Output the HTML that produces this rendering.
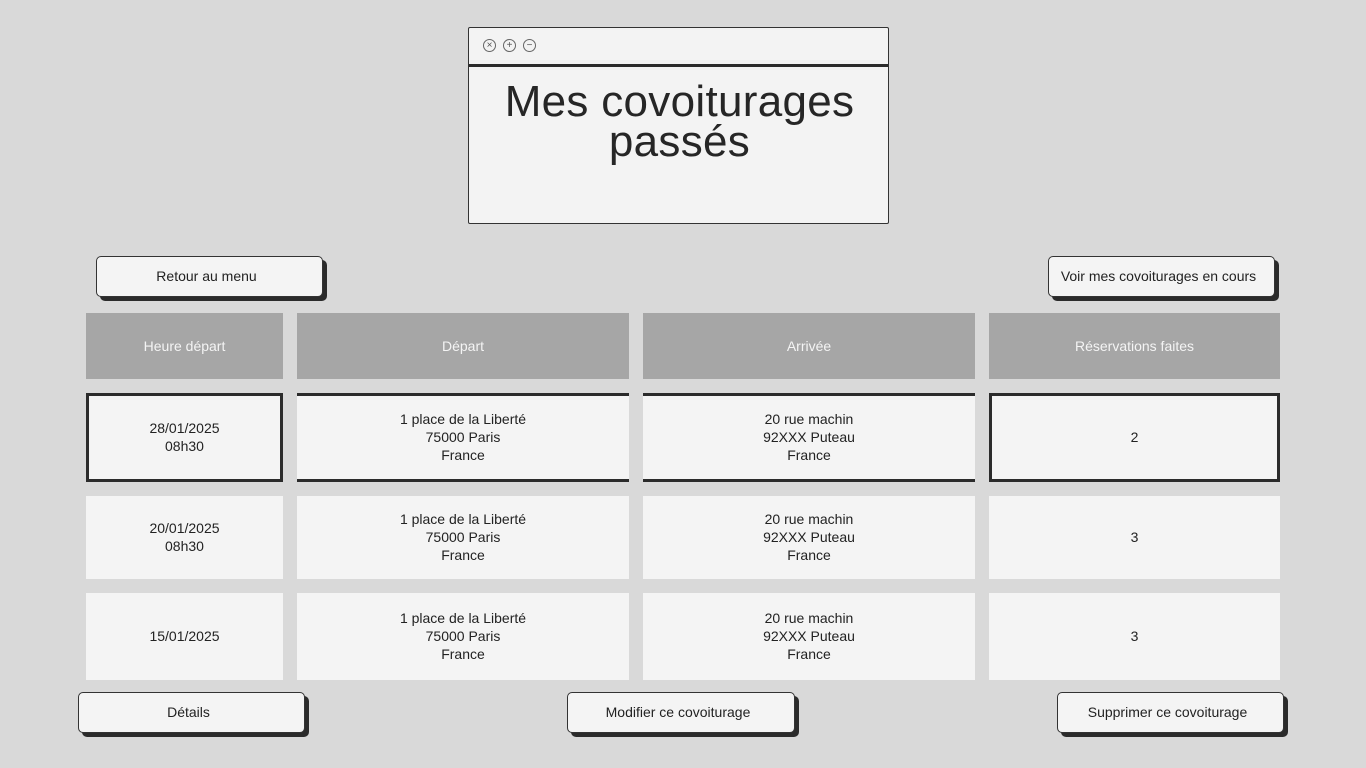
<!DOCTYPE html>
<html><head><meta charset="utf-8"><style>
body{margin:0;width:1366px;height:768px;background:#d9d9d9;position:relative;font-family:"Liberation Sans",sans-serif;overflow:hidden;color:#222}
.a{position:absolute;box-sizing:border-box}
.win{left:468px;top:27px;width:421px;height:197px;background:#f3f3f3;border:1.5px solid #333;border-radius:2px}
.bar{left:0;top:36px;width:100%;height:3px;background:#2b2b2b}
.ic{top:11px;width:13px;height:13px;border:1px solid #666;border-radius:50%;font-size:10px;line-height:11px;text-align:center;color:#555}
.title{left:-20px;top:54px;width:461px;text-align:center;font-size:44px;line-height:40px;color:#262626;letter-spacing:0.3px}
.btn{height:41px;background:#f4f4f4;border:1.5px solid #333;border-radius:5px;box-shadow:4px 4px 0 #2b2b2b;font-size:14px;text-align:center;line-height:38px;padding-right:6px}
.h{top:313px;height:66px;background:#a6a6a6;color:#f4f4f4;font-size:14px;display:flex;align-items:center;justify-content:center}
.c{background:#f4f4f4;font-size:14px;line-height:18px;display:flex;align-items:center;justify-content:center;text-align:center;color:#222;padding-bottom:2px}
.s{border-top:3px solid #2b2b2b;border-bottom:3px solid #2b2b2b}
.f{border:3px solid #2b2b2b}
</style></head><body>
<div class="a win">
<div class="a ic" style="left:14px">×</div><div class="a ic" style="left:34px">+</div><div class="a ic" style="left:54px">−</div>
<div class="a bar"></div>
<div class="a title">Mes covoiturages<br>passés</div>
</div>
<div class="a btn" style="left:96px;top:256px;width:227px">Retour au menu</div>
<div class="a btn" style="left:1048px;top:256px;width:227px">Voir mes covoiturages en cours</div>

<div class="a h" style="left:86px;width:197px">Heure départ</div>
<div class="a h" style="left:297px;width:332px">Départ</div>
<div class="a h" style="left:643px;width:332px">Arrivée</div>
<div class="a h" style="left:989px;width:291px">Réservations faites</div>

<div class="a c f" style="left:86px;top:393px;width:197px;height:89px">28/01/2025<br>08h30</div>
<div class="a c s" style="left:297px;top:393px;width:332px;height:89px">1 place de la Liberté<br>75000 Paris<br>France</div>
<div class="a c s" style="left:643px;top:393px;width:332px;height:89px">20 rue machin<br>92XXX Puteau<br>France</div>
<div class="a c f" style="left:989px;top:393px;width:291px;height:89px">2</div>

<div class="a c" style="left:86px;top:496px;width:197px;height:83px">20/01/2025<br>08h30</div>
<div class="a c" style="left:297px;top:496px;width:332px;height:83px">1 place de la Liberté<br>75000 Paris<br>France</div>
<div class="a c" style="left:643px;top:496px;width:332px;height:83px">20 rue machin<br>92XXX Puteau<br>France</div>
<div class="a c" style="left:989px;top:496px;width:291px;height:83px">3</div>

<div class="a c" style="left:86px;top:593px;width:197px;height:87px">15/01/2025</div>
<div class="a c" style="left:297px;top:593px;width:332px;height:87px">1 place de la Liberté<br>75000 Paris<br>France</div>
<div class="a c" style="left:643px;top:593px;width:332px;height:87px">20 rue machin<br>92XXX Puteau<br>France</div>
<div class="a c" style="left:989px;top:593px;width:291px;height:87px">3</div>

<div class="a btn" style="left:78px;top:692px;width:227px">Détails</div>
<div class="a btn" style="left:567px;top:692px;width:228px">Modifier ce covoiturage</div>
<div class="a btn" style="left:1057px;top:692px;width:227px">Supprimer ce covoiturage</div>
</body></html>
